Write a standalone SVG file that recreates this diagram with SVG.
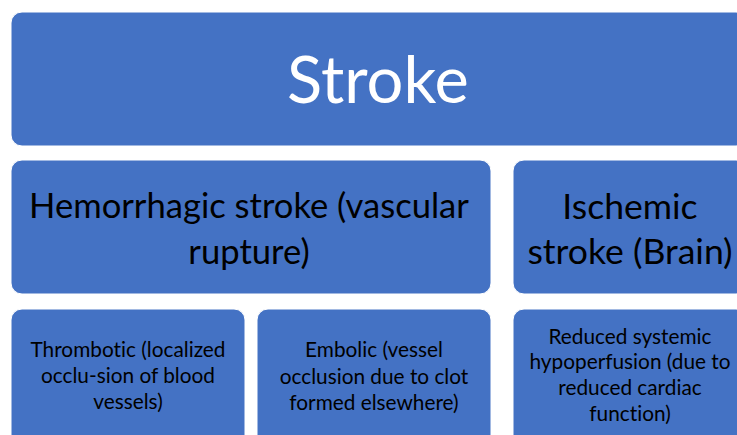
<svg xmlns="http://www.w3.org/2000/svg" width="737" height="435" viewBox="0 0 737 435">
  <style>
    .box { fill: #4472C4; stroke: #FFFFFF; stroke-width: 1; }
    text { font-family: Lato, "Open Sans", "Liberation Sans", sans-serif; text-anchor: middle; fill: #000000; font-variant-ligatures: none; }
    .t1 { font-size: 65px; fill: #FFFFFF; }
    .t2 { font-size: 34.6px; }
    .t2b { font-size: 35.6px; }
    .t3 { font-size: 20.8px; }
  </style>
  <rect width="737" height="435" fill="#FFFFFF"/>
  <g id="stroke">
    <rect class="box" x="11" y="12" width="736" height="134" rx="11"/>
    <text class="t1" x="378" y="103">Stroke</text>
  </g>
  <g id="hemorrhagic">
    <rect class="box" x="11" y="160" width="480" height="134" rx="11"/>
    <text class="t2" x="249" y="218">Hemorrhagic stroke (vascular</text>
    <text class="t2" x="249" y="264">rupture)</text>
  </g>
  <g id="ischemic">
    <rect class="box" x="513" y="160" width="234" height="134" rx="11"/>
    <text class="t2b" x="630" y="219">Ischemic</text>
    <text class="t2b" x="630" y="264">stroke (Brain)</text>
  </g>
  <g id="thrombotic">
    <rect class="box" x="11" y="309" width="234" height="140" rx="11"/>
    <text class="t3" x="128" y="357">Thrombotic (localized</text>
    <text class="t3" x="128" y="383">occlu-sion of blood</text>
    <text class="t3" x="128" y="409">vessels)</text>
  </g>
  <g id="embolic">
    <rect class="box" x="257" y="309" width="234" height="140" rx="11"/>
    <text class="t3" x="374" y="357">Embolic (vessel</text>
    <text class="t3" x="374" y="384">occlusion due to clot</text>
    <text class="t3" x="374" y="410">formed elsewhere)</text>
  </g>
  <g id="hypoperfusion">
    <rect class="box" x="513" y="309" width="234" height="140" rx="11"/>
    <text class="t3" x="630" y="344">Reduced systemic</text>
    <text class="t3" x="630" y="369">hypoperfusion (due to</text>
    <text class="t3" x="630" y="395">reduced cardiac</text>
    <text class="t3" x="630" y="421">function)</text>
  </g>
</svg>
